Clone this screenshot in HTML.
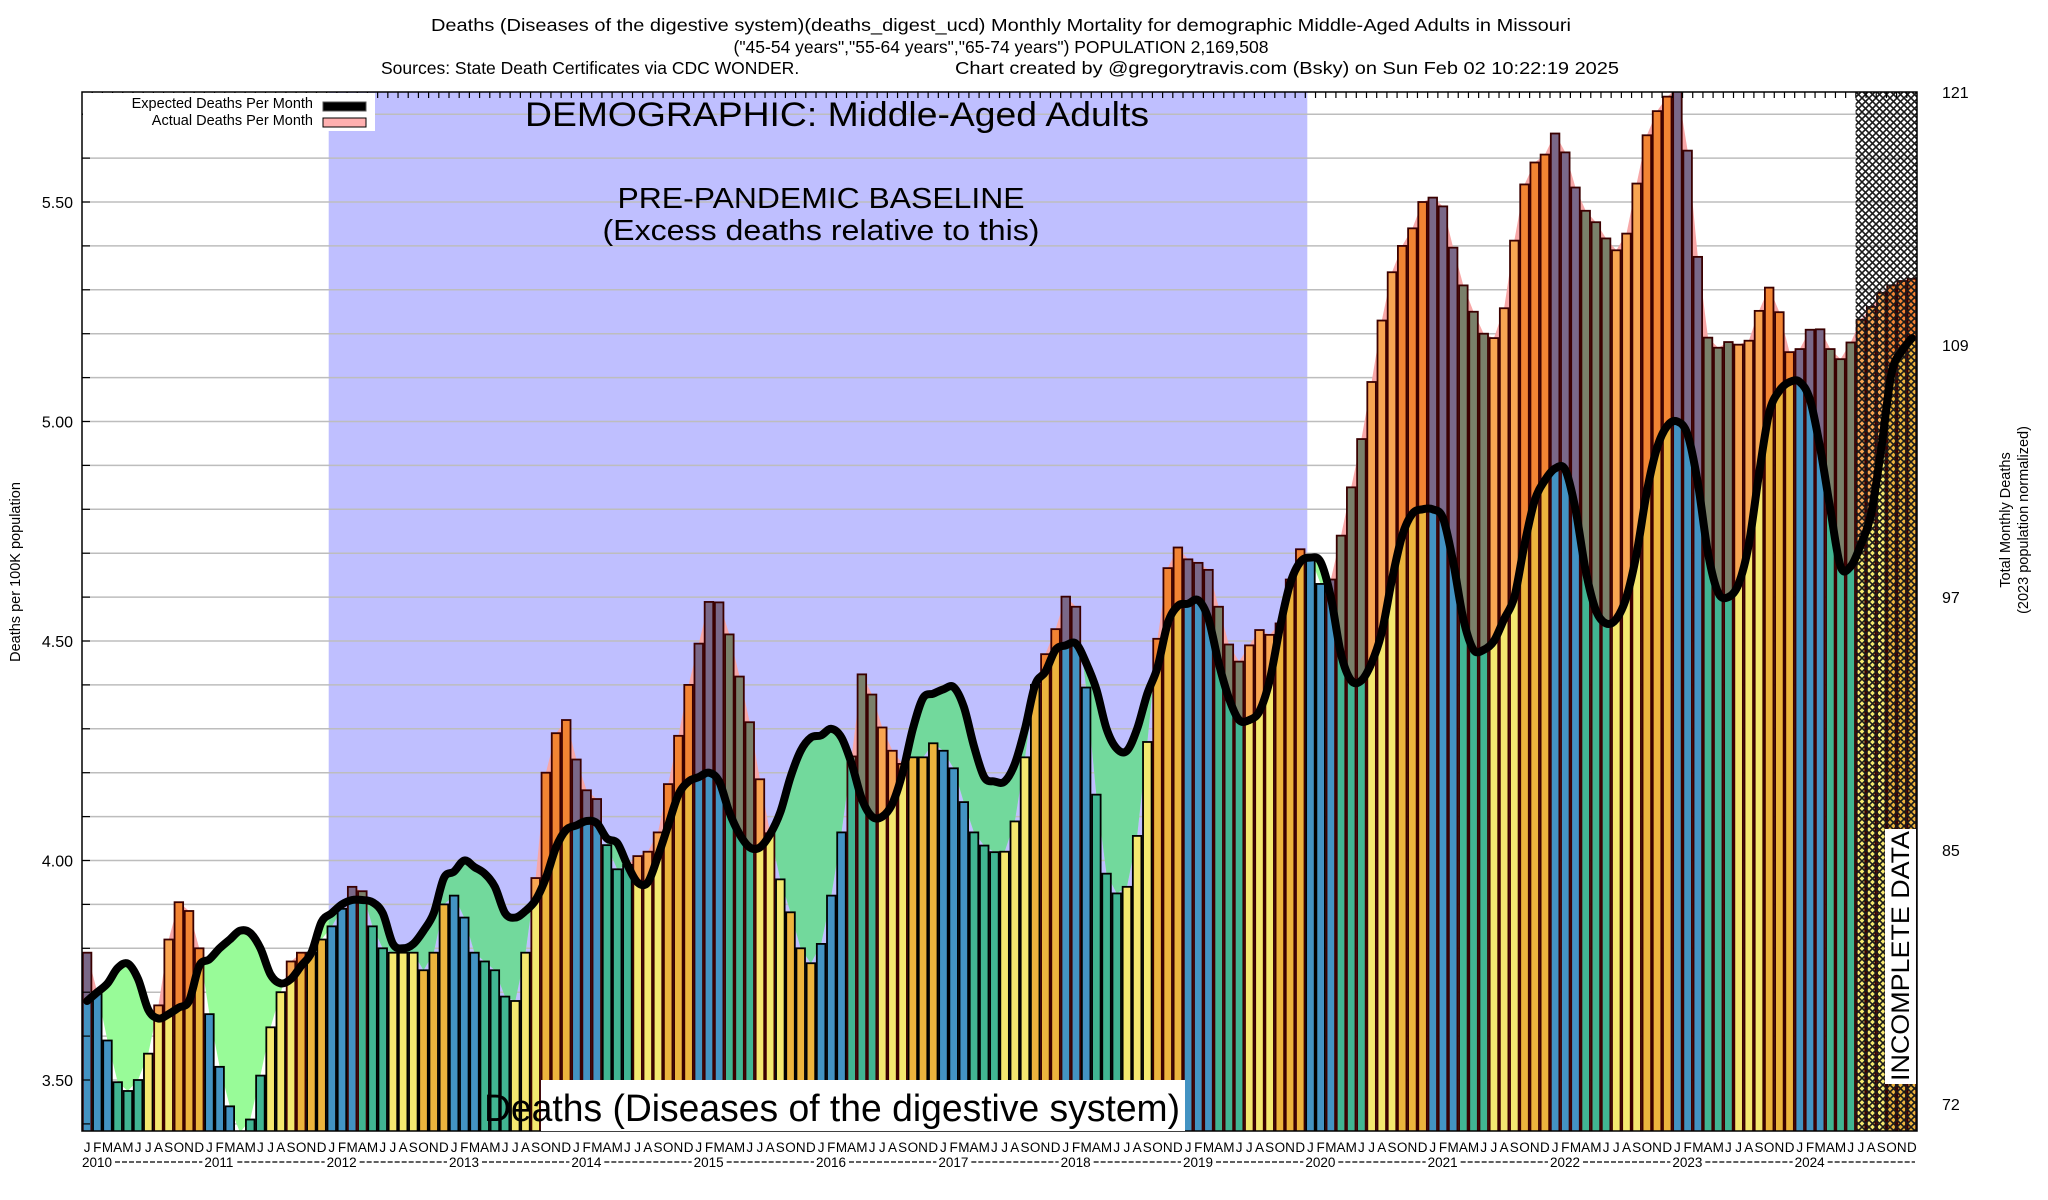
<!DOCTYPE html>
<html><head><meta charset="utf-8"><style>
html,body{margin:0;padding:0;background:#fff;}
svg{display:block;font-family:"Liberation Sans",sans-serif;}
</style></head><body>
<svg id="chart" width="2048" height="1200" viewBox="0 0 2048 1200" xmlns="http://www.w3.org/2000/svg">
<defs>
<pattern id="hatch" width="7" height="7" patternUnits="userSpaceOnUse">
<path d="M0,0 L7,7 M7,0 L0,7" stroke="#1a1a1a" stroke-width="1.6" fill="none"/>
</pattern>
<clipPath id="plotClip"><rect x="82" y="92" width="1835" height="1039"/></clipPath>
<clipPath id="baseClip"><rect x="328.7" y="92" width="978.6" height="1039"/></clipPath>
<clipPath id="aboveExp"><path id="aboveExpPath" d=""/></clipPath>
<clipPath id="aboveAct"><path id="aboveActPath" d=""/></clipPath>
</defs>
<g font-size="17.5" text-anchor="middle" fill="#000">
<text x="1001" y="31" textLength="1140" lengthAdjust="spacingAndGlyphs">Deaths (Diseases of the digestive system)(deaths_digest_ucd) Monthly Mortality for demographic Middle-Aged Adults in Missouri</text>
<text x="1001" y="53">("45-54 years","55-64 years","65-74 years") POPULATION 2,169,508</text>
<text x="381" y="74" text-anchor="start">Sources: State Death Certificates via CDC WONDER.</text>
<text x="955" y="74" text-anchor="start" textLength="664" lengthAdjust="spacingAndGlyphs">Chart created by @gregorytravis.com (Bsky) on Sun Feb 02 10:22:19 2025</text>
</g>
<rect x="328.7" y="92" width="978.6" height="1039" fill="#bfbfff"/>
<g id="grid"></g>
<g id="fills" clip-path="url(#plotClip)"></g>
<g id="bars" clip-path="url(#plotClip)"></g>
<rect x="1855.6" y="92" width="61.4" height="1039" fill="url(#hatch)"/>
<g id="line" clip-path="url(#plotClip)"></g>
<rect x="82" y="92" width="1835" height="1039" fill="none" stroke="#000" stroke-width="1.5"/>
<g id="ticks"></g>
<g>
<rect x="83" y="93" width="292" height="38" fill="#fff"/>
<text x="313" y="108" font-size="14.5" text-anchor="end">Expected Deaths Per Month</text>
<rect x="323" y="102" width="43" height="9" fill="#000" stroke="#555" stroke-width="1"/>
<text x="313" y="125" font-size="14.5" text-anchor="end">Actual Deaths Per Month</text>
<rect x="323" y="118" width="43" height="9" fill="#ffb0b0" stroke="#000" stroke-width="1"/>
</g>
<text x="837" y="126" font-size="34" text-anchor="middle" textLength="624" lengthAdjust="spacingAndGlyphs">DEMOGRAPHIC: Middle-Aged Adults</text>
<text x="821" y="208" font-size="29" text-anchor="middle" textLength="407" lengthAdjust="spacingAndGlyphs">PRE-PANDEMIC BASELINE</text>
<text x="821" y="240" font-size="29" text-anchor="middle" textLength="437" lengthAdjust="spacingAndGlyphs">(Excess deaths relative to this)</text>
<rect x="541" y="1080" width="644" height="51" fill="#fff"/>
<text x="484" y="1121" font-size="38" textLength="696" lengthAdjust="spacingAndGlyphs">Deaths (Diseases of the digestive system)</text>
<rect x="1885" y="829" width="31" height="255" fill="#fff"/>
<text transform="translate(1909,1081) rotate(-90)" font-size="25" textLength="250" lengthAdjust="spacingAndGlyphs">INCOMPLETE DATA</text>
<g id="yleft" font-size="16" text-anchor="end"></g>
<g font-size="16">
<text x="1942" y="98">121</text><text x="1942" y="351">109</text><text x="1942" y="603">97</text><text x="1942" y="856">85</text><text x="1942" y="1110">72</text>
</g>
<text transform="translate(20,572) rotate(-90)" font-size="14.5" text-anchor="middle">Deaths per 100K population</text>
<text transform="translate(2010,520) rotate(-90)" font-size="14.5" text-anchor="middle">Total Monthly Deaths</text>
<text transform="translate(2028,520) rotate(-90)" font-size="14.5" text-anchor="middle">(2023 population normalized)</text>
<g id="xlabels" font-size="13.5"></g>
</svg>
<script>
const years = [2010,2011,2012,2013,2014,2015,2016,2017,2018,2019,2020,2021,2022,2023,2024];
const monthLetters = ["J","F","M","A","M","J","J","A","S","O","N","D"];
const yTicks = [3.5,4.0,4.5,5.0,5.5];
const yTickLabels = ["3.50","4.00","4.50","5.00","5.50"];
const actual = [
3.79,3.70,3.59,3.495,3.475,3.50,3.56,3.67,3.82,3.905,3.885,3.80,
3.65,3.53,3.44,3.38,3.41,3.51,3.62,3.70,3.77,3.79,3.79,3.82,
3.85,3.89,3.94,3.93,3.85,3.80,3.79,3.79,3.79,3.75,3.79,3.90,
3.92,3.87,3.79,3.77,3.75,3.69,3.68,3.79,3.96,4.20,4.29,4.32,
4.23,4.16,4.14,4.035,3.98,3.99,4.01,4.02,4.064,4.174,4.284,4.40,
4.494,4.589,4.588,4.515,4.419,4.315,4.185,4.062,3.957,3.882,3.80,3.766,
3.81,3.92,4.064,4.237,4.424,4.378,4.303,4.25,4.22,4.235,4.235,4.267,
4.25,4.21,4.133,4.064,4.034,4.019,4.02,4.089,4.235,4.40,4.47,4.527,
4.601,4.578,4.394,4.15,3.97,3.925,3.94,4.056,4.27,4.505,4.666,4.713,
4.686,4.678,4.662,4.578,4.492,4.453,4.49,4.525,4.514,4.54,4.64,4.709,
4.69,4.63,4.64,4.74,4.85,4.96,5.09,5.23,5.34,5.40,5.44,5.50,
5.51,5.49,5.396,5.31,5.25,5.20,5.19,5.258,5.412,5.54,5.59,5.608,
5.656,5.613,5.533,5.48,5.454,5.417,5.39,5.428,5.542,5.652,5.707,5.74,
5.76,5.617,5.375,5.191,5.168,5.181,5.175,5.184,5.252,5.305,5.249,5.158,
5.165,5.209,5.21,5.165,5.142,5.18,5.232,5.261,5.293,5.31,5.32,5.325];
const expected = [
3.68,3.70,3.72,3.755,3.765,3.73,3.66,3.64,3.65,3.665,3.68,3.76,
3.775,3.80,3.82,3.84,3.835,3.80,3.74,3.72,3.73,3.76,3.79,3.86,
3.88,3.90,3.91,3.91,3.905,3.88,3.81,3.80,3.81,3.84,3.88,3.96,
3.975,4.00,3.985,3.97,3.94,3.88,3.87,3.885,3.91,3.96,4.03,4.07,
4.08,4.09,4.085,4.05,4.04,3.99,3.95,3.95,4.01,4.08,4.15,4.18,
4.19,4.20,4.18,4.11,4.06,4.03,4.03,4.06,4.11,4.19,4.25,4.28,
4.285,4.30,4.28,4.22,4.14,4.10,4.10,4.13,4.20,4.30,4.37,4.38,
4.39,4.395,4.35,4.26,4.19,4.18,4.18,4.22,4.30,4.40,4.43,4.48,
4.49,4.494,4.45,4.39,4.30,4.255,4.25,4.30,4.38,4.44,4.54,4.58,
4.585,4.593,4.55,4.45,4.37,4.32,4.32,4.34,4.41,4.53,4.63,4.68,
4.69,4.68,4.60,4.47,4.41,4.41,4.45,4.52,4.64,4.74,4.79,4.80,
4.80,4.78,4.68,4.55,4.48,4.48,4.50,4.55,4.60,4.72,4.82,4.866,
4.893,4.89,4.80,4.66,4.57,4.54,4.55,4.60,4.70,4.84,4.94,4.99,
5.00,4.97,4.86,4.70,4.61,4.60,4.63,4.72,4.88,5.02,5.07,5.09,
5.09,5.05,4.94,4.80,4.67,4.67,4.72,4.79,4.94,5.11,5.16,5.19];

const NS="http://www.w3.org/2000/svg";
const L=82,R=1917,T=92,B=1131;
const N=actual.length;
const slot=(R-L)/N;
function xL(i){return L+slot*i;}
function xC(i){return L+slot*(i+0.5);}
function yS(v){return 1080-(v-3.5)*439;}
function mk(tag,attrs,parent){const e=document.createElementNS(NS,tag);for(const k in attrs)e.setAttribute(k,attrs[k]);parent.appendChild(e);return e;}

const grid=document.getElementById('grid');
for(let k=34;k<=57;k++){const v=k/10;const y=yS(v);if(y<T+2||y>B-1)continue;
 const g=mk('line',{x1:L,x2:R,y1:y,y2:y,stroke:'#bdbdbd','stroke-width':1.5},grid);
 
 
 const t=mk('line',{x1:L,x2:L+8,y1:y,y2:y,stroke:'#000','stroke-width':1.2},document.getElementById('ticks'));
 
 
}
const yl=document.getElementById('yleft');
yTicks.forEach((v,j)=>{const t=mk('text',{x:73,y:yS(v)+6},yl);t.textContent=yTickLabels[j];
 
 });

function smooth(vals){let d='';const p=vals.map((v,i)=>[xC(i),yS(v)]);
 d+='M'+p[0][0]+','+p[0][1];
 for(let i=0;i<p.length-1;i++){const p0=p[Math.max(0,i-1)],p1=p[i],p2=p[i+1],p3=p[Math.min(p.length-1,i+2)];
  const c1=[p1[0]+(p2[0]-p0[0])/6,p1[1]+(p2[1]-p0[1])/6],c2=[p2[0]-(p3[0]-p1[0])/6,p2[1]-(p3[1]-p1[1])/6];
  d+=' C'+c1[0]+','+c1[1]+' '+c2[0]+','+c2[1]+' '+p2[0]+','+p2[1];}
 return d;}
function linear(vals){return vals.map((v,i)=>(i?'L':'M')+xC(i)+','+yS(v)).join(' ');}
const expD=smooth(expected), actD=linear(actual);
const x0=xC(0),x1=xC(N-1);
document.getElementById('aboveExpPath').setAttribute('d',expD+' L'+(x1+10)+','+yS(expected[N-1])+' L'+(x1+10)+',0 L'+(x0-10)+',0 L'+(x0-10)+','+yS(expected[0])+' Z');
document.getElementById('aboveActPath').setAttribute('d',actD+' L'+(x1+10)+','+yS(actual[N-1])+' L'+(x1+10)+',0 L'+(x0-10)+',0 L'+(x0-10)+','+yS(actual[0])+' Z');
const fills=document.getElementById('fills');
const pink=mk('path',{d:actD+' L'+x1+','+B+' L'+x0+','+B+' Z',fill:'#f7a8a8','clip-path':'url(#aboveExp)'},fills);


const green=mk('path',{d:expD+' L'+x1+','+B+' L'+x0+','+B+' Z',fill:'#98fb98','clip-path':'url(#aboveAct)'},fills);


const gb=mk('g',{'clip-path':'url(#baseClip)'},fills);


mk('path',{d:expD+' L'+x1+','+B+' L'+x0+','+B+' Z',fill:'#72d99c','clip-path':'url(#aboveAct)'},gb);

const base=['#4393c3','#41b592','#f4e86f','#ecb43d'];
const exc=['#7a6888','#7a806a','#f8a552','#f28433'];
const bars=document.getElementById('bars');
const bw=slot*0.84;
for(let i=0;i<N;i++){const q=Math.floor((i%12)/3);
 const a=actual[i],e=expected[i];const x=xL(i)+(slot-bw)/2;
 const g=mk('g',{},bars);
 
 
 const lo=Math.min(a,e);
 mk('rect',{x:x,y:yS(lo),width:bw,height:B-yS(lo)+2,fill:base[q]},g);
 if(a>e){mk('rect',{x:x,y:yS(a),width:bw,height:yS(e)-yS(a),fill:exc[q]},g);}
 mk('rect',{x:x,y:yS(a),width:bw,height:B-yS(a)+2,fill:'none',stroke:a>e?'#3a0000':'#000','stroke-width':1.8},g);
}
const ln=mk('path',{d:expD,fill:'none',stroke:'#000','stroke-width':8,'stroke-linejoin':'round','stroke-linecap':'round'},document.getElementById('line'));



const ticks=document.getElementById('ticks');
for(let i=1;i<N;i++){const t=mk('line',{x1:xL(i),x2:xL(i),y1:T,y2:T+6,stroke:'#000','stroke-width':1.2},ticks);
 
 }

const xl=document.getElementById('xlabels');
for(let i=0;i<N;i++){const t=mk('text',{x:xC(i),y:1152,'text-anchor':'middle'},xl);t.textContent=monthLetters[i%12];
 
 }
years.forEach((yr,j)=>{const x=xL(j*12);const t=mk('text',{x:x,y:1167},xl);t.textContent=yr;
 
 
 const dl=mk('line',{x1:x+33,x2:xL(j*12+12)-2,y1:1162,y2:1162,stroke:'#000','stroke-width':1.3,'stroke-dasharray':'5,2'},xl);
 
 });
</script>
</body></html>
